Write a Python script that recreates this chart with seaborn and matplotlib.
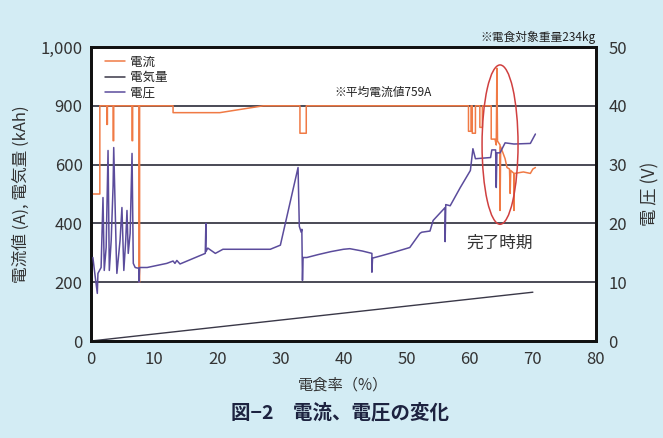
import numpy as np
import matplotlib
matplotlib.use("Agg")
import matplotlib.pyplot as plt
from matplotlib.patches import Ellipse
from matplotlib.lines import Line2D
import seaborn as sns

# ---------------- data ----------------
# current (A), left axis
cur_x = [0.3, 1.4, 1.4, 2.5, 2.5, 2.6, 2.6, 3.5, 3.5, 3.6, 3.6, 6.5, 6.5, 6.6, 6.6,
         7.6, 7.6, 7.7, 7.7, 13.0, 13.0, 20.4, 27.3, 33.1, 33.1, 34.1, 34.1,
         59.8, 59.8, 60.2, 60.2, 60.4, 60.4, 60.9, 60.9, 61.6, 61.6, 62.0, 62.0,
         63.4, 63.4, 64.0, 64.2, 64.3, 64.4, 64.8, 64.8, 64.9, 65.2, 65.6, 65.9,
         66.3, 66.4, 66.5, 67.0, 67.0, 67.1, 68.5, 69.6, 70.0, 70.4]
cur_y = [500, 500, 900, 900, 805, 805, 900, 900, 722, 722, 900, 900, 722, 722, 900,
         900, 200, 200, 900, 900, 865, 865, 900, 900, 760, 760, 900,
         900, 770, 770, 900, 900, 760, 760, 900, 900, 790, 790, 900,
         900, 730, 730, 700, 964, 720, 700, 444, 690, 665, 630, 590,
         585, 502, 580, 570, 444, 570, 575, 570, 585, 590]

# charge (kAh), left axis
chg_x = [0.0, 70.0]
chg_y = [0.0, 166.0]

# voltage (V), right axis
volt_x = [0.3, 0.6, 1.0, 1.1, 1.6, 1.9, 2.1, 2.4, 2.7, 2.9, 3.2, 3.5, 3.6, 4.0,
          4.1, 4.6, 4.9, 5.2, 5.5, 5.7, 5.9, 6.2, 6.5, 6.7, 7.0, 7.4, 7.6, 7.6,
          7.7, 8.9, 12.0, 13.0, 13.3, 13.6, 14.1, 18.1, 18.2, 18.2, 18.5, 19.7,
          20.9, 26.8, 28.4, 30.0, 32.8, 33.0, 33.3, 33.4, 33.5, 33.6, 34.2,
          36.0, 38.0, 40.0, 41.0, 43.0, 44.5, 44.5, 44.6, 46.0, 48.0, 50.5,
          52.1, 52.4, 53.7, 54.2, 56.1, 56.1, 56.2, 56.9, 58.5, 60.1, 60.5,
          60.9, 63.3, 63.5, 64.1, 64.2, 64.3, 64.8, 65.6, 67.0, 69.6, 70.4]
volt_y = [14.2, 11.5, 8.1, 11.5, 12.5, 24.4, 12.0, 15.9, 32.4, 12.0, 17.1, 26.4,
          32.9, 14.9, 11.5, 17.1, 22.7, 12.0, 17.1, 22.2, 14.9, 18.3, 31.9, 13.2,
          12.5, 12.4, 12.4, 10.0, 12.5, 12.5, 13.2, 13.6, 13.2, 13.7, 13.1, 14.9,
          20.0, 15.2, 15.8, 14.9, 15.6, 15.6, 15.6, 16.3, 29.5, 19.5, 18.5, 19.0,
          10.3, 14.2, 14.2, 14.7, 15.2, 15.6, 15.7, 15.3, 14.9, 11.7, 14.1, 14.5,
          15.1, 15.9, 18.3, 18.5, 18.7, 20.5, 22.7, 16.9, 23.2, 23.0, 26.1, 29.0,
          32.7, 31.0, 31.2, 32.5, 32.5, 26.1, 32.0, 32.0, 33.7, 33.5, 33.6, 35.2]

left_ticks = [0, 200, 400, 600, 900, 1000]
left_labels = ["0", "200", "400", "600", "900", "1,000"]
right_ticks = [0, 10, 20, 30, 40, 50]
x_ticks = [0, 10, 20, 30, 40, 50, 60, 70, 80]

# ---------------- style ----------------
sns.set_theme(style="white")
plt.rcParams['font.family'] = ['Noto Sans CJK JP', 'DejaVu Sans']

bg = "#d3ecf4"
c_cur = "#f07a45"
c_chg = "#3a3848"
c_volt = "#5b4c9c"
txt = "#333333"

fig = plt.figure(figsize=(6.63, 4.38), dpi=100, facecolor=bg)
ax = fig.add_axes([91/663, 1-341/438, (596-91)/663, (341-47)/438])
ax.set_facecolor("white")

seg = [0, 1, 2, 3, 4, 5]
fwd = lambda v: np.interp(v, left_ticks, seg)
inv = lambda u: np.interp(u, seg, left_ticks)
ax.set_yscale('function', functions=(fwd, inv))
ax.set_ylim(0, 1000)
ax.set_xlim(0, 80)

# grid lines
for t in [200, 400, 600, 900]:
    ax.axhline(t, color="#4a4a55", lw=1.4, zorder=1)

sns.lineplot(x=chg_x, y=chg_y, ax=ax, color=c_chg, lw=1.0, estimator=None, sort=False, zorder=3)
sns.lineplot(x=cur_x, y=cur_y, ax=ax, color=c_cur, lw=1.1, estimator=None, sort=False, zorder=3)

ax2 = ax.twinx()
ax2.set_ylim(0, 50)
sns.lineplot(x=volt_x, y=volt_y, ax=ax2, color=c_volt, lw=1.1, estimator=None, sort=False, zorder=4)
ax2.add_patch(Ellipse((64.8, 33.4), 5.7, 27.1, fill=False, edgecolor="#d04040", lw=1.1, zorder=5))

ax.set_yticks(left_ticks)
ax.set_yticklabels(left_labels)
ax.yaxis.set_minor_locator(matplotlib.ticker.NullLocator())
ax2.set_yticks(right_ticks)
ax.set_xticks(x_ticks)

ax.tick_params(axis='x', direction='in', length=4, width=1, colors='#222222', labelsize=12, pad=7)
ax.tick_params(axis='x', labelcolor=txt)
ax.tick_params(axis='y', length=0, labelsize=12, pad=6, labelcolor=txt)
ax2.tick_params(axis='y', length=0, labelsize=12, pad=9, labelcolor=txt)

for a in (ax, ax2):
    for s in a.spines.values():
        s.set_color("#111111")
        s.set_linewidth(2)

ax.set_xlabel("電食率（%）", fontsize=11, color=txt, labelpad=6)
ax.set_ylabel("電流値 (A), 電気量 (kAh)", fontsize=12, color=txt, labelpad=8)
ax2.set_ylabel("電 圧 (V)", fontsize=12.5, color=txt, rotation=90, labelpad=10)
ax2.set_xlabel("")

ax.text(46.2, 912, "※平均電流値759A", fontsize=8.5, color="#222222", ha="center", va="bottom", zorder=6)
ax2.text(64.8, 16.6, "完了時期", fontsize=12, color=txt, ha="center", va="center", zorder=6)
ax.text(1.0, 1.01, "※電食対象重量234kg", transform=ax.transAxes, fontsize=8.5,
        color="#222222", ha="right", va="bottom")

handles = [Line2D([], [], color=c_cur, lw=1.1),
           Line2D([], [], color=c_chg, lw=1.1),
           Line2D([], [], color=c_volt, lw=1.1)]
leg = ax.legend(handles, ["電流", "電気量", "電圧"], loc="upper left", frameon=False,
                fontsize=9, handlelength=1.6, handletextpad=0.4, labelspacing=0.2,
                borderaxespad=0.3, bbox_to_anchor=(0.01, 1.0))
for t in leg.get_texts():
    t.set_color("#222222")
if ax2.get_legend():
    ax2.get_legend().remove()

fig.text(0.513, 1-413/438, "図−2　電流、電圧の変化", fontsize=14, color="#1d2340",
         ha="center", va="center", fontweight="bold")

fig.savefig("out.png", dpi=100, facecolor=bg)
